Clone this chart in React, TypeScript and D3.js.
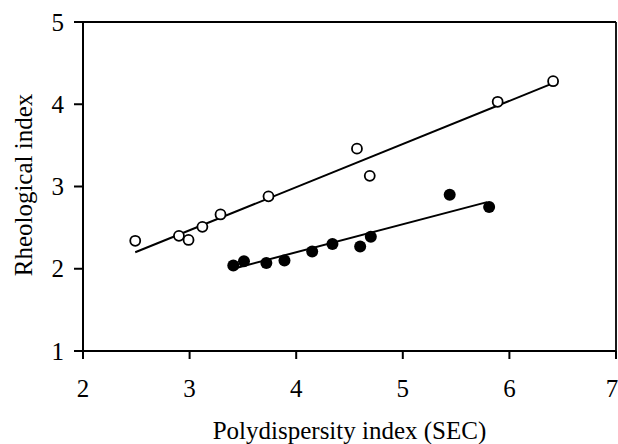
import React from "react";
import * as d3 from "d3";

const openX = [2.49, 2.9, 2.99, 3.12, 3.29, 3.74, 4.57, 4.69, 5.89, 6.41];
const openY = [2.34, 2.4, 2.35, 2.51, 2.66, 2.88, 3.46, 3.13, 4.03, 4.28];
const filledX = [3.41, 3.51, 3.72, 3.89, 4.15, 4.34, 4.6, 4.7, 5.44, 5.81];
const filledY = [2.04, 2.09, 2.07, 2.1, 2.21, 2.3, 2.27, 2.39, 2.9, 2.75];
const openFitX = [2.49, 6.4];
const openFitY = [2.2, 4.25];
const filledFitX = [3.41, 5.79];
const filledFitY = [2.0, 2.81];
const xTicks = [2, 3, 4, 5, 6, 7];
const yTicks = [1, 2, 3, 4, 5];

export default function App() {
  const W = 618, H = 444;
  const left = 83, right = 616, top = 22, bottom = 351;
  const x = d3.scaleLinear().domain([2, 7]).range([left, right]);
  const y = d3.scaleLinear().domain([1, 5]).range([bottom, top]);
  const line = d3.line<[number, number]>().x(d => x(d[0])).y(d => y(d[1]));
  const font = "Liberation Serif, DejaVu Serif, Times New Roman, serif";
  return (
    <svg width={W} height={H} style={{ position: "absolute", left: 0, top: 0, background: "#fff" }}>
      <rect x={0} y={0} width={W} height={H} fill="#fff" />
      <line x1={left} x2={right} y1={top} y2={top} stroke="#000" strokeWidth={1.8} />
      <line x1={right} x2={right} y1={top} y2={bottom} stroke="#000" strokeWidth={1.8} />
      <line x1={left} x2={right} y1={bottom} y2={bottom} stroke="#000" strokeWidth={2} />
      <line x1={left} x2={left} y1={top} y2={bottom} stroke="#000" strokeWidth={2} />
      {yTicks.map(t => (
        <g key={"y" + t}>
          <line x1={left - 9} x2={left} y1={y(t)} y2={y(t)} stroke="#000" strokeWidth={2} />
          <text x={left - 19} y={y(t)} dy="0.34em" textAnchor="end" style={{ fontFamily: font, fontSize: 25 }}>{t}</text>
        </g>
      ))}
      {xTicks.map(t => (
        <g key={"x" + t}>
          <line x1={x(t)} x2={x(t)} y1={bottom} y2={bottom + 8} stroke="#000" strokeWidth={2} />
          <text x={t === 7 ? x(t) - 4 : x(t)} y={397} textAnchor="middle" style={{ fontFamily: font, fontSize: 25 }}>{t}</text>
        </g>
      ))}
      <text x={349.5} y={439} textAnchor="middle" style={{ fontFamily: font, fontSize: 25 }}>Polydispersity index (SEC)</text>
      <text transform={`translate(32,185) rotate(-90)`} textAnchor="middle" style={{ fontFamily: font, fontSize: 25 }}>Rheological index</text>
      <path d={line(openFitX.map((v, i) => [v, openFitY[i]]) as [number, number][]) || ""} fill="none" stroke="#000" strokeWidth={2} />
      <path d={line(filledFitX.map((v, i) => [v, filledFitY[i]]) as [number, number][]) || ""} fill="none" stroke="#000" strokeWidth={2} />
      {openX.map((v, i) => (
        <circle key={"o" + i} cx={x(v)} cy={y(openY[i])} r={5} fill="#fff" stroke="#000" strokeWidth={1.8} />
      ))}
      {filledX.map((v, i) => (
        <circle key={"f" + i} cx={x(v)} cy={y(filledY[i])} r={6} fill="#000" />
      ))}
    </svg>
  );
}
